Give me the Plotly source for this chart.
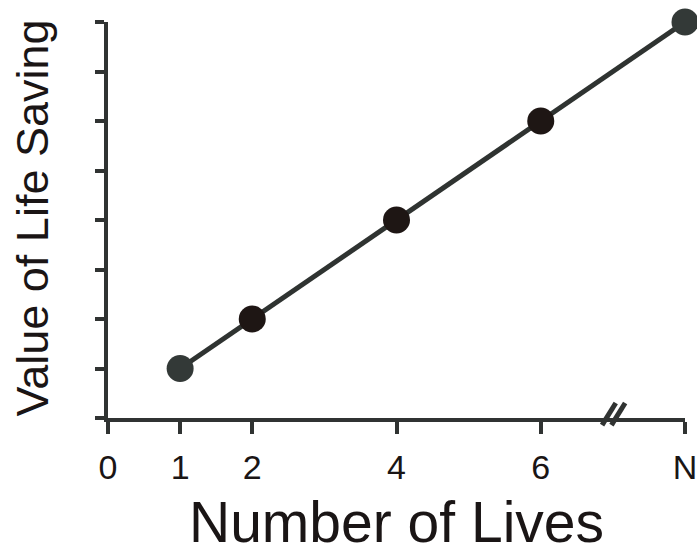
import plotly.graph_objects as go

# Data
lives_x = [1, 2, 4, 6, 8]          # position 8 is labelled "N"
value_y = [1, 2, 4, 6, 8]
marker_colors = ["#333937", "#1e1614", "#1e1614", "#1e1614", "#333937"]
x_tick_vals = [0, 1, 2, 4, 6, 8]
x_tick_text = ["0", "1", "2", "4", "6", "N"]
y_tick_vals = [0, 1, 2, 3, 4, 5, 6, 7, 8]
break_x = 7

FONT = "Liberation Sans, Arial, sans-serif"
AX = "#303332"
TXT = "#1a1515"

fig = go.Figure()
fig.add_trace(go.Scatter(
    x=lives_x, y=value_y, mode="lines+markers",
    line=dict(color="#2f3331", width=5),
    marker=dict(size=27, color=marker_colors, line=dict(width=0)),
    cliponaxis=False, showlegend=False, hoverinfo="skip",
))

# axis-break "//" marks
for dx in (0.0, 0.13):
    fig.add_shape(type="line", xref="x", yref="paper",
                  x0=break_x - 0.15 + dx, y0=-0.018, x1=break_x + 0.04 + dx, y1=0.038,
                  line=dict(color=AX, width=5))

fig.add_annotation(text="Number of Lives", xref="paper", yref="paper",
                   x=0.5, y=-0.262, xanchor="center", yanchor="middle",
                   showarrow=False, font=dict(size=57, family=FONT, color=TXT))
fig.add_annotation(text="Value of Life Saving", xref="paper", yref="paper",
                   x=-0.131, y=0.505, xanchor="center", yanchor="middle", textangle=-90,
                   showarrow=False, font=dict(size=45, family=FONT, color=TXT))

fig.update_layout(
    width=697, height=547,
    margin=dict(l=108, r=12, t=22, b=129, autoexpand=False),
    paper_bgcolor="white", plot_bgcolor="white",
    font=dict(family=FONT, color=TXT),
    xaxis=dict(
        range=[0, 8], tickmode="array", tickvals=x_tick_vals, ticktext=x_tick_text,
        ticks="outside", ticklen=12, tickwidth=4, tickcolor=AX, automargin=False,
        showline=True, linecolor=AX, linewidth=4, showgrid=False, zeroline=False,
        tickfont=dict(size=34, family=FONT, color=TXT), ticklabelstandoff=4,
        ticklabeloverflow="allow",
    ),
    yaxis=dict(
        range=[0, 8], tickmode="array", tickvals=y_tick_vals, showticklabels=False,
        ticks="outside", ticklen=9, tickwidth=4, tickcolor=AX, automargin=False,
        showline=True, linecolor=AX, linewidth=4, showgrid=False, zeroline=False,
    ),
)

fig.write_html("out.html", config={"displayModeBar": False},
               post_script="document.body.style.margin='0';document.body.style.padding='0';document.body.style.overflow='hidden';")
